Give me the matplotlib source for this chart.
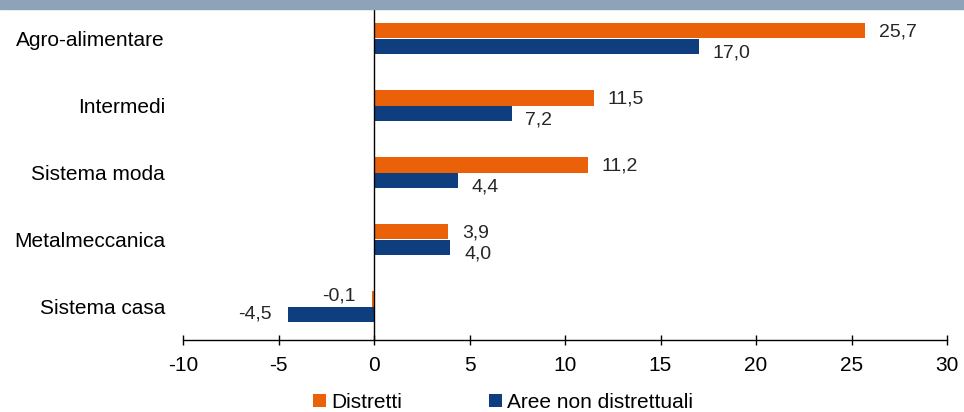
import numpy as np
import matplotlib
matplotlib.use("Agg")
import matplotlib.pyplot as plt
from matplotlib.patches import Rectangle

# Data
CATEGORIES = ["Agro-alimentare", "Intermedi", "Sistema moda", "Metalmeccanica", "Sistema casa"]
DISTRETTI = [25.7, 11.5, 11.2, 3.9, -0.1]
AREE_NON_DISTR = [17.0, 7.2, 4.4, 4.0, -4.5]
SERIES_NAMES = ["Distretti", "Aree non distrettuali"]
X_TICKS = [-10, -5, 0, 5, 10, 15, 20, 25, 30]

ORANGE = "#EB6109"
BLUE = "#0E3E7E"
BAND = "#8DA3B8"

plt.rcParams["font.family"] = ["Liberation Sans", "DejaVu Sans"]

fig = plt.figure(figsize=(9.64, 4.12), dpi=100)
ax = fig.add_axes([183 / 964, 1 - 340 / 412, (947 - 183) / 964, (340 - 5) / 412])

y = np.arange(len(CATEGORIES))
h = 0.23
ax.barh(y - h / 2, DISTRETTI, height=h, color=ORANGE, label=SERIES_NAMES[0])
ax.barh(y + h / 2, AREE_NON_DISTR, height=h, color=BLUE, label=SERIES_NAMES[1])


def fmt(v):
    return f"{v:.1f}".replace(".", ",")


# value labels (Excel-like placement: blue labels pushed a bit below the bar)
for i in range(len(CATEGORIES)):
    for v, yy, blue in [(DISTRETTI[i], y[i] - h / 2, False), (AREE_NON_DISTR[i], y[i] + h / 2, True)]:
        if v >= 0:
            dy = -5 if blue else -1
            ax.annotate(fmt(v), (v, yy), xytext=(10, dy), textcoords="offset points",
                        ha="left", va="center", fontsize=14, color="#262626")
        else:
            dy = 0 if blue else 2
            ax.annotate(fmt(v), (v, yy), xytext=(-12, dy), textcoords="offset points",
                        ha="right", va="center", fontsize=14, color="#262626")

ax.set_xlim(-10, 30)
ax.set_ylim(len(CATEGORIES) - 0.5, -0.5)
ax.set_xticks(X_TICKS)
ax.set_xticklabels([str(t) for t in X_TICKS], fontsize=15)
ax.set_yticks(y)
ax.set_yticklabels(CATEGORIES, fontsize=15)
ax.tick_params(axis="y", length=0, pad=13)
ax.tick_params(axis="x", direction="inout", length=7, width=1, pad=8)

for s in ["left", "right", "top"]:
    ax.spines[s].set_visible(False)
ax.spines["bottom"].set_linewidth(1)
ax.axvline(0, color="black", linewidth=1)

fig.legend(loc="center", bbox_to_anchor=(503 / 964, 1 - 402 / 412), ncol=2, frameon=False,
           fontsize=15, handlelength=0.6, handleheight=0.6, handletextpad=0.25, columnspacing=4.2)

# cropped header band at the top
fig.patches.append(Rectangle((0, 1 - 9 / 412), 1, 9 / 412, transform=fig.transFigure,
                             color=BAND, zorder=5))

fig.savefig("out.png", dpi=100)
